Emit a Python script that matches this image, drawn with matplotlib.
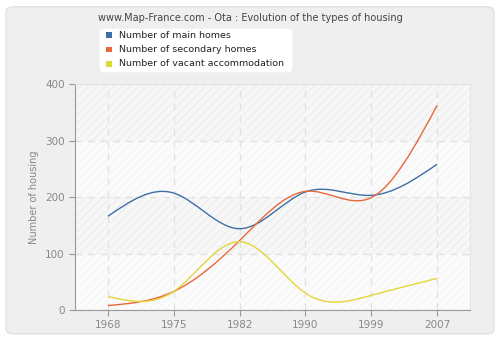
import numpy as np
import matplotlib
matplotlib.use('Agg')
import matplotlib.pyplot as plt
from matplotlib.path import Path
from matplotlib.patches import PathPatch, FancyBboxPatch

years = ['1968', '1975', '1982', '1990', '1999', '2007']
main_homes = [166, 207, 144, 209, 203, 258]
secondary_homes = [8, 33, 123, 210, 199, 362]
vacant = [24, 33, 121, 30, 26, 56]

labels = ['Number of main homes', 'Number of secondary homes', 'Number of vacant accommodation']
colors = ['#3d6ea6', '#e8683a', '#e4d63a']

plt.rcParams['hatch.linewidth'] = 0.5


def spline_path(y):
    # natural cubic spline through the points, as bezier segments
    y = np.asarray(y, dtype=float)
    n = len(y)
    A = np.zeros((n, n))
    b = np.zeros(n)
    A[0, 0] = 1
    A[-1, -1] = 1
    for i in range(1, n - 1):
        A[i, i - 1:i + 2] = [1, 4, 1]
        b[i] = 6 * (y[i + 1] - 2 * y[i] + y[i - 1])
    M = np.linalg.solve(A, b)
    verts = [(0, y[0])]
    codes = [Path.MOVETO]
    for i in range(n - 1):
        d0 = (y[i + 1] - y[i]) - (2 * M[i] + M[i + 1]) / 6
        d1 = (y[i + 1] - y[i]) + (M[i] + 2 * M[i + 1]) / 6
        verts += [(i + 1 / 3, y[i] + d0 / 3), (i + 2 / 3, y[i + 1] - d1 / 3), (i + 1, y[i + 1])]
        codes += [Path.CURVE4] * 3
    return Path(verts, codes)


fig = plt.figure(figsize=(5, 3.4), dpi=100)
fig.patch.set_facecolor('white')
fig.patches.append(FancyBboxPatch((0.012, 0.018), 0.976, 0.962, boxstyle='round,pad=0,rounding_size=0.015',
                                  transform=fig.transFigure, facecolor='#efefef', edgecolor='#e2e2e2', lw=1,
                                  zorder=-5))

ax = fig.add_axes([0.15, 0.088, 0.79, 0.665])
ax.set_facecolor('#fbfbfb')
for lo in [100, 300]:
    ax.axhspan(lo, lo + 100, facecolor='#f7f7f7', edgecolor='#e8e8e8', hatch='////', lw=0, zorder=0)
for lo in [0, 200]:
    ax.axhspan(lo, lo + 100, facecolor='none', edgecolor='#f2f2f2', hatch='////', lw=0, zorder=0)

for vals, c in zip([main_homes, secondary_homes, vacant], colors):
    ax.add_patch(PathPatch(spline_path(vals), facecolor='none', edgecolor=c, lw=1, zorder=3))

ax.set_xlim(-0.5, 5.5)
ax.set_ylim(0, 400)
ax.set_xticks(range(len(years)))
ax.set_xticklabels(years)
ax.set_yticks([0, 100, 200, 300, 400])
ax.grid(True, color='#e2e2e2', linestyle=(0, (5, 4)), lw=1)
ax.set_axisbelow(True)
for s in ['top', 'right']:
    ax.spines[s].set_color('#e4e4e4')
for s in ['left', 'bottom']:
    ax.spines[s].set_color('#999999')
ax.tick_params(colors='#999999', labelcolor='#888888', labelsize=7.5, length=4)
ax.set_ylabel('Number of housing', color='#888888', fontsize=7)

fig.text(0.5, 0.948, 'www.Map-France.com - Ota : Evolution of the types of housing',
         ha='center', va='center', fontsize=7, color='#444444')

fig.patches.append(FancyBboxPatch((0.198, 0.785), 0.388, 0.133, boxstyle='round,pad=0,rounding_size=0.012',
                                  transform=fig.transFigure, facecolor='white', edgecolor='#eeeeee', lw=1,
                                  zorder=5))
for i, (lab, c) in enumerate(zip(labels, colors)):
    yy = 0.897 - i * 0.0425
    fig.patches.append(plt.Rectangle((0.212, yy - 0.008), 0.011, 0.016, transform=fig.transFigure,
                                     facecolor=c, edgecolor='none', zorder=6))
    fig.text(0.238, yy, lab, ha='left', va='center', fontsize=6.8, color='#222222', zorder=7)

fig.savefig('out.png', dpi=100, facecolor=fig.get_facecolor())
